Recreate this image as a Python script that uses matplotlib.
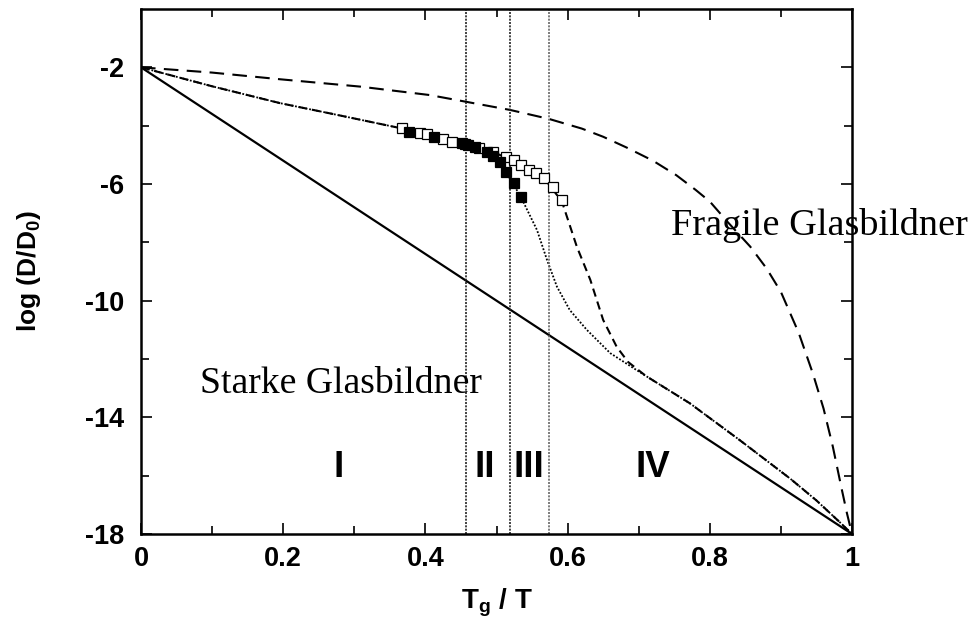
import matplotlib
matplotlib.use("Agg")
import matplotlib.pyplot as plt
from matplotlib.ticker import FixedLocator

# ---------------- data ----------------
strong_x = [0.0, 1.0]
strong_y = [-2.0, -18.0]

fragile_x = [0.0, 0.1, 0.196, 0.308, 0.406, 0.457, 0.519, 0.574, 0.62, 0.65, 0.683, 0.72,
             0.753, 0.78, 0.80, 0.825, 0.857, 0.88, 0.90, 0.925, 0.945, 0.96, 0.973,
             0.985, 0.993, 1.0]
fragile_y = [-2.0, -2.18, -2.41, -2.66, -2.95, -3.18, -3.46, -3.77, -4.1, -4.38, -4.75,
             -5.2, -5.7, -6.2, -6.6, -7.3, -8.15, -8.9, -9.7, -11.1, -12.5, -13.7, -15.0,
             -16.4, -17.3, -18.0]

dash_x = [0.0, 0.1, 0.196, 0.266, 0.36, 0.40, 0.45, 0.50, 0.535, 0.567, 0.592, 0.613,
          0.632, 0.650, 0.669, 0.685, 0.71, 0.772, 0.842, 0.913, 0.95, 0.983, 1.0]
dash_y = [-2.0, -2.65, -3.23, -3.58, -4.06, -4.28, -4.55, -4.95, -5.35, -5.8, -6.6, -8.15,
          -9.29, -10.66, -11.58, -12.1, -12.58, -13.52, -14.78, -16.1, -16.85, -17.6, -18.0]

dot_x = [0.0, 0.1, 0.196, 0.266, 0.36, 0.40, 0.45, 0.47, 0.495, 0.513, 0.534, 0.557,
         0.571, 0.585, 0.603, 0.627, 0.660, 0.697, 0.71, 0.772, 0.842, 0.913, 0.95,
         0.983, 1.0]
dot_y = [-2.0, -2.65, -3.23, -3.58, -4.06, -4.3, -4.6, -4.72, -5.04, -5.58, -6.43, -7.58,
         -8.6, -9.52, -10.32, -11.0, -11.8, -12.38, -12.58, -13.52, -14.78, -16.1, -16.85,
         -17.6, -18.0]

open_x = [0.367, 0.392, 0.402, 0.425, 0.437, 0.455, 0.475, 0.495, 0.514, 0.525, 0.535,
          0.546, 0.556, 0.567, 0.580, 0.592]
open_y = [-4.09, -4.26, -4.30, -4.47, -4.55, -4.63, -4.75, -4.90, -5.06, -5.18, -5.35,
          -5.52, -5.63, -5.80, -6.11, -6.55]

filled_x = [0.377, 0.412, 0.451, 0.460, 0.470, 0.486, 0.495, 0.505, 0.513, 0.524, 0.534]
filled_y = [-4.21, -4.38, -4.60, -4.66, -4.72, -4.89, -5.04, -5.23, -5.58, -5.98, -6.43]

region_bounds = [0.457, 0.519, 0.574]
region_labels = ["I", "II", "III", "IV"]
region_label_x = [0.278, 0.483, 0.545, 0.72]

x_major = [0, 0.2, 0.4, 0.6, 0.8, 1.0]
x_major_labels = ["0", "0.2", "0.4", "0.6", "0.8", "1"]
x_minor = [0.1, 0.3, 0.5, 0.7, 0.9]
y_major = [-18, -14, -10, -6, -2]
y_major_labels = ["-18", "-14", "-10", "-6", "-2"]
y_minor = [-16, -12, -8, -4]

# ---------------- figure ----------------
fig = plt.figure(figsize=(9.74, 6.21), dpi=100)
ax = fig.add_axes([141/974, 1-534/621, (852-141)/974, (534-9)/621])

ax.plot(strong_x, strong_y, color="black", lw=1.6, solid_capstyle="butt")
ax.plot(fragile_x, fragile_y, color="black", lw=1.5, linestyle=(0, (7, 4)))
ax.plot(dash_x, dash_y, color="black", lw=1.5, linestyle=(0, (4, 2.5)))
ax.plot(dot_x, dot_y, color="black", lw=1.3, linestyle=(0, (1, 1)))

for xb, c in zip(region_bounds, ["#222222", "#222222", "#666666"]):
    ax.axvline(xb, color=c, lw=1.2, linestyle=(0, (1.2, 0.8)))

ax.plot(open_x, open_y, linestyle="none", marker="s", markersize=6.8,
        markerfacecolor="white", markeredgecolor="black", markeredgewidth=0.9)
ax.plot(filled_x, filled_y, linestyle="none", marker="s", markersize=6.8,
        markerfacecolor="black", markeredgecolor="black", markeredgewidth=0.9)

ax.set_xlim(0, 1)
ax.set_ylim(-18, 0)

ax.xaxis.set_major_locator(FixedLocator(x_major))
ax.set_xticklabels(x_major_labels)
ax.xaxis.set_minor_locator(FixedLocator(x_minor))
ax.yaxis.set_major_locator(FixedLocator(y_major))
ax.set_yticklabels(y_major_labels)
ax.yaxis.set_minor_locator(FixedLocator(y_minor))

ax.tick_params(which="both", direction="in", top=True, right=True, width=1.2)
ax.tick_params(which="major", length=8)
ax.tick_params(axis="x", which="major", pad=9)
ax.tick_params(axis="y", which="major", pad=12)
ax.tick_params(which="minor", length=6)
for lab in ax.get_xticklabels() + ax.get_yticklabels():
    lab.set_fontfamily("Liberation Sans")
    lab.set_fontweight("bold")
    lab.set_fontsize(19.5)

for s in ax.spines.values():
    s.set_linewidth(1.8)

ax.set_xlabel("T$_\\mathregular{g}$ / T", fontfamily="Liberation Sans", fontweight="bold",
              fontsize=20, labelpad=10)
ax.set_ylabel("log (D/D$_\\mathregular{0}$)", fontfamily="Liberation Sans", fontweight="bold",
              fontsize=19, labelpad=30)

ax.text(0.746, -7.75, "Fragile Glasbildner", fontfamily="Liberation Serif", fontsize=27.5,
        ha="left", va="baseline", clip_on=False)
ax.text(0.083, -13.16, "Starke Glasbildner", fontfamily="Liberation Serif", fontsize=27.2,
        ha="left", va="baseline")

for lbl, lx in zip(region_labels, region_label_x):
    ax.text(lx, -16.03, lbl, fontfamily="Liberation Sans", fontweight="bold", fontsize=26.5,
            ha="center", va="baseline")

fig.savefig("out.png", dpi=100)
